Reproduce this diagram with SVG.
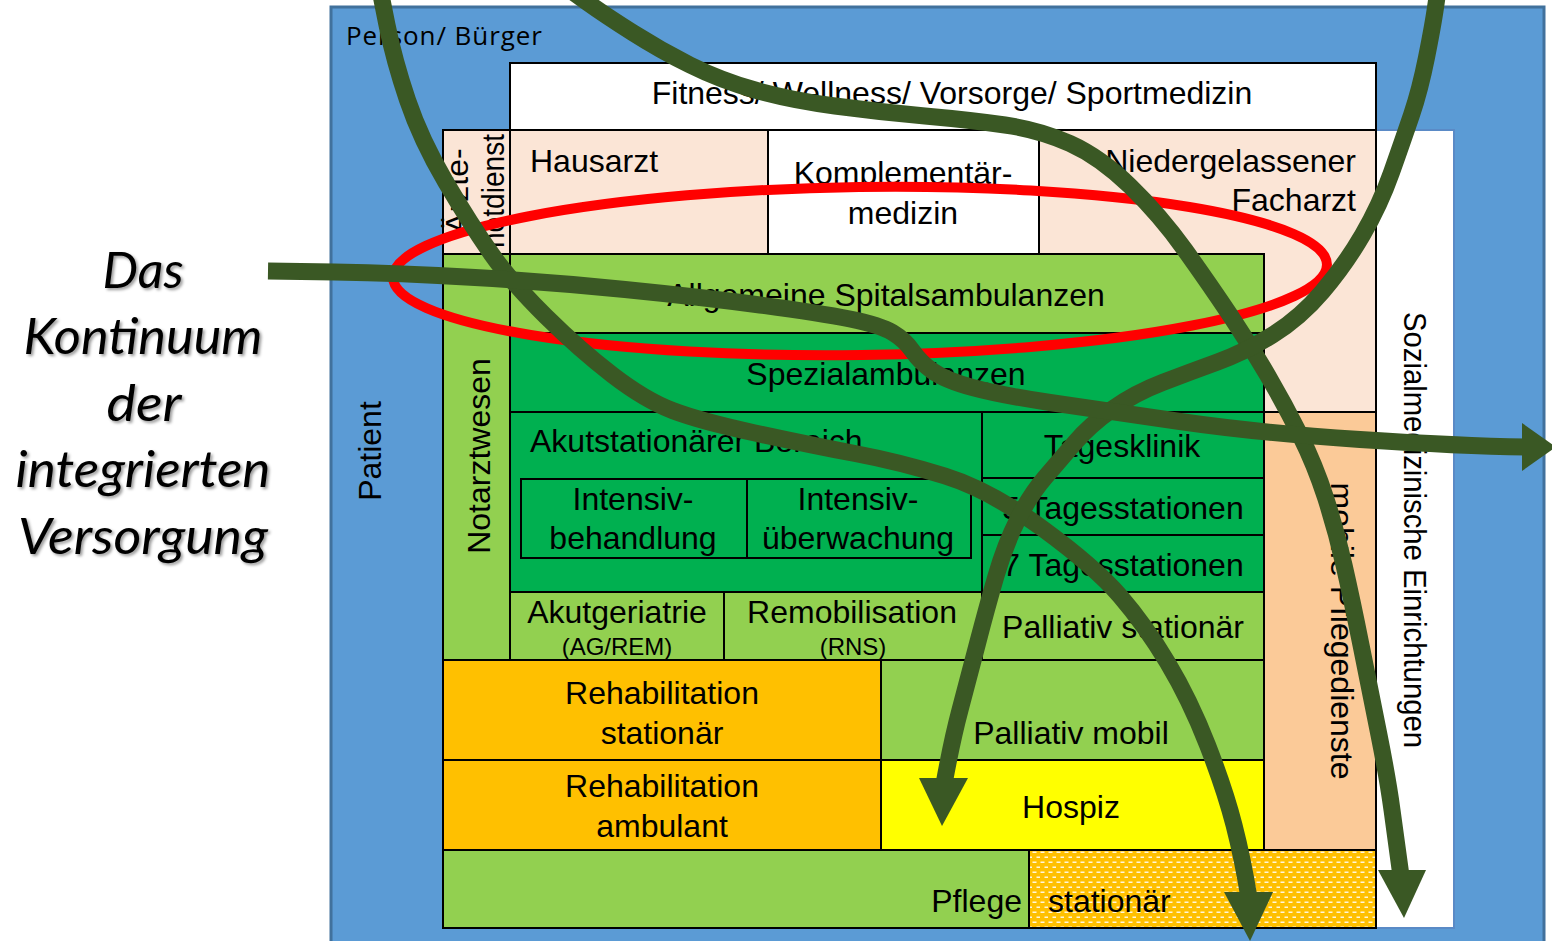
<svg xmlns="http://www.w3.org/2000/svg" width="1552" height="941" viewBox="0 0 1552 941">
<style>
.t{font-family:"Liberation Sans",Arial,sans-serif;font-size:32px;fill:#000}
.ts{font-size:24px}
.c{text-anchor:middle}
.e{text-anchor:end}
.b{stroke:#000;stroke-width:2}
.peach{fill:#fbe5d6}
.lg{fill:#92d050}
.dg{fill:#00b050}
.or{fill:#ffc000}
.arr{fill:none;stroke:#3a5824;stroke-width:17;stroke-linecap:butt;stroke-linejoin:round}
.head{fill:#3a5824}
.title{font-family:Lato,"Open Sans",sans-serif;font-style:italic;font-size:50px;fill:#000;text-anchor:middle}
</style>
<defs>
<pattern id="dots" width="8" height="10" patternUnits="userSpaceOnUse">
<rect width="8" height="10" fill="#ffc000"/>
<rect x="0.5" y="1.5" width="4" height="1.5" fill="#fff" opacity="0.85"/>
<rect x="4.5" y="6.5" width="3.5" height="1.5" fill="#fff" opacity="0.85"/>
</pattern>
<filter id="sh" x="-10%" y="-10%" width="120%" height="130%">
<feDropShadow dx="2" dy="2" stdDeviation="1.5" flood-color="#000" flood-opacity="0.4"/>
</filter>
</defs>
<rect width="1552" height="941" fill="#fff"/>

<g id="person">
<rect x="331" y="7" width="1213" height="945" fill="#5b9bd5" stroke="#41719c" stroke-width="3"/>
<text x="346" y="45" font-family="Open Sans,sans-serif" font-size="26" textLength="196">Person/ Bürger</text>
<text class="t" transform="translate(381,451) rotate(-90)" text-anchor="middle">Patient</text>
</g>

<g id="sozial">
<rect x="1376" y="130" width="78" height="798" fill="#fff" stroke="#5a8ac6" stroke-width="2"/>
<text class="t c" transform="translate(1404,530) rotate(90)" font-size="28" textLength="436" lengthAdjust="spacingAndGlyphs">Sozialmedizinische Einrichtungen</text>
</g>

<g id="fitness">
<rect x="510" y="63" width="866" height="67" fill="#fff" class="b"/>
<text class="t c" x="952" y="104">Fitness/ Wellness/ Vorsorge/ Sportmedizin</text>
</g>

<g id="facharzt">
<rect x="1039" y="130" width="337" height="282" class="b peach"/>
<text class="t e" x="1356" y="172">Niedergelassener</text>
<text class="t e" x="1356" y="211">Facharzt</text>
</g>

<g id="aerztenotdienst">
<rect x="443" y="130" width="67" height="124" class="b peach"/>
<text class="t c" font-size="27" transform="translate(468,191) rotate(-90)">Ärzte-</text>
<text class="t c" font-size="27" transform="translate(504,191) rotate(-90)" textLength="114" lengthAdjust="spacingAndGlyphs">notdienst</text>
</g>

<g id="hausarzt">
<rect x="510" y="130" width="258" height="124" class="b peach"/>
<text class="t" x="530" y="172">Hausarzt</text>
</g>

<g id="komplementaer">
<rect x="768" y="130" width="271" height="124" fill="#fff" class="b"/>
<text class="t c" x="903" y="184">Komplementär-</text>
<text class="t c" x="903" y="224">medizin</text>
</g>

<g id="notarzt">
<rect x="443" y="254" width="67" height="406" class="b lg"/>
<text class="t c" transform="translate(490,456) rotate(-90)">Notarztwesen</text>
</g>

<g id="allgemein">
<rect x="510" y="254" width="754" height="79" class="b lg"/>
<text class="t c" x="886" y="306">Allgemeine Spitalsambulanzen</text>
</g>

<g id="spezial">
<rect x="510" y="333" width="754" height="79" class="b dg"/>
<text class="t c" x="886" y="385">Spezialambulanzen</text>
</g>

<g id="akut">
<rect x="510" y="412" width="472" height="180" class="b dg"/>
<text class="t" x="530" y="452">Akutstationärer Bereich</text>
</g>

<g id="intensivbeh">
<rect x="521" y="479" width="226" height="79" class="b dg"/>
<text class="t c" x="633" y="510">Intensiv-</text>
<text class="t c" x="633" y="549">behandlung</text>
</g>

<g id="intensivueb">
<rect x="747" y="479" width="224" height="79" class="b dg"/>
<text class="t c" x="858" y="510">Intensiv-</text>
<text class="t c" x="858" y="549">überwachung</text>
</g>

<g id="tagesklinik">
<rect x="982" y="412" width="282" height="66" class="b dg"/>
<text class="t c" x="1122" y="457">Tagesklinik</text>
</g>

<g id="tages5">
<rect x="982" y="478" width="282" height="57" class="b dg"/>
<text class="t c" x="1123" y="519">5 Tagesstationen</text>
</g>

<g id="tages7">
<rect x="982" y="535" width="282" height="57" class="b dg"/>
<text class="t c" x="1123" y="576">7 Tagesstationen</text>
</g>

<g id="akutgeriatrie">
<rect x="510" y="592" width="214" height="68" class="b lg"/>
<text class="t c" x="617" y="623">Akutgeriatrie</text>
<text class="t ts c" x="617" y="655">(AG/REM)</text>
</g>

<g id="remobilisation">
<rect x="724" y="592" width="258" height="68" class="b lg"/>
<text class="t c" x="852" y="623">Remobilisation</text>
<text class="t ts c" x="853" y="655">(RNS)</text>
</g>

<g id="palliativstat">
<rect x="982" y="592" width="282" height="68" class="b lg"/>
<text class="t c" x="1123" y="638">Palliativ stationär</text>
</g>

<g id="rehastat">
<rect x="443" y="660" width="438" height="100" class="b or"/>
<text class="t c" x="662" y="704">Rehabilitation</text>
<text class="t c" x="662" y="744">stationär</text>
</g>

<g id="rehaamb">
<rect x="443" y="760" width="438" height="90" class="b or"/>
<text class="t c" x="662" y="797">Rehabilitation</text>
<text class="t c" x="662" y="837">ambulant</text>
</g>

<g id="palliativmobil">
<rect x="881" y="660" width="383" height="100" class="b lg"/>
<text class="t c" x="1071" y="744">Palliativ mobil</text>
</g>

<g id="hospiz">
<rect x="881" y="760" width="383" height="90" class="b" fill="#ffff00"/>
<text class="t c" x="1071" y="818">Hospiz</text>
</g>

<g id="mobilpflege">
<rect x="1264" y="412" width="112" height="438" class="b" fill="#fbca98"/>
<text class="t c" transform="translate(1331,631) rotate(90)">mobile Pflegedienste</text>
</g>

<g id="pflege">
<rect x="443" y="850" width="586" height="78" class="b lg"/>
<text class="t e" x="1022" y="912">Pflege</text>
</g>

<g id="pflegestat">
<rect x="1029" y="850" width="347" height="78" class="b" fill="url(#dots)"/>
<text class="t" x="1048" y="912">stationär</text>
</g>

<g id="title" filter="url(#sh)">
<text class="title" x="143" y="288" textLength="81" lengthAdjust="spacingAndGlyphs">Das</text>
<text class="title" x="143" y="354" textLength="239" lengthAdjust="spacingAndGlyphs">Kontinuum</text>
<text class="title" x="144" y="421" textLength="75" lengthAdjust="spacingAndGlyphs">der</text>
<text class="title" x="143" y="487" textLength="255" lengthAdjust="spacingAndGlyphs">integrierten</text>
<text class="title" x="143" y="554" textLength="250" lengthAdjust="spacingAndGlyphs">Versorgung</text>
</g>

<g id="focus">
<ellipse cx="860" cy="271" rx="467" ry="84" fill="none" stroke="#ff0000" stroke-width="10" transform="rotate(-0.8 860 271)"/>
</g>

<g id="connectors">
<path class="arr" d="M380,-10 L387,25 Q394,60 407.5,100 Q421,140 446,182.5 Q471,225 491.5,254 Q512,283 546,316.5 Q580,350 612.5,375 Q645,400 672.5,410.5 Q700,421 755,433 Q810,445 855,453.5 Q900,462 945,476 Q990,490 1042.5,528.5 Q1095,567 1120,596 Q1145,625 1167.5,662.5 Q1190,700 1207.5,745 Q1225,790 1234,825 Q1243,860 1249,898"/>
<polygon class="head" points="1224,892 1273,892 1250,941"/>
<path class="arr" d="M570,-10 L587.5,2.5 Q605,15 632.5,32.5 Q660,50 690,65 Q720,80 755,90 Q790,100 835,106 Q880,112 925,116 Q970,120 1005,125 Q1040,130 1070,143.5 Q1100,157 1130,186 Q1160,215 1185,250 Q1210,285 1230,315 Q1250,345 1267.5,375 Q1285,405 1300,435 Q1315,465 1325.5,497.5 Q1336,530 1344,565 Q1352,600 1361,645 Q1370,690 1379,735 Q1388,780 1392,810 Q1396,840 1401,876"/>
<polygon class="head" points="1378,870 1426,870 1404,918"/>
<path class="arr" d="M1438,-10 L1435.5,7.5 Q1433,25 1426.5,57.5 Q1420,90 1411.5,115 Q1403,140 1391.5,172.5 Q1380,205 1362.5,235 Q1345,265 1322.5,291.5 Q1300,318 1272.5,335 Q1245,352 1217.5,362 Q1190,372 1162.5,382.5 Q1135,393 1112.5,409 Q1090,425 1075,442.5 Q1060,460 1045,477.5 Q1030,495 1017.5,520 Q1005,545 996,576 Q987,607 977.5,643.5 Q968,680 960,710 Q952,740 944,784"/>
<polygon class="head" points="919,778 968,778 942,826"/>
<path class="arr" d="M268,271 L334,272 Q400,273 475,277.5 Q550,282 625,289.5 Q700,297 760,305 Q820,313 850,319 Q880,325 892.5,332.5 Q905,340 912.5,351 Q920,362 932.5,371 Q945,380 972.5,387.5 Q1000,395 1050,402.5 Q1100,410 1180,421.5 Q1260,433 1360,439.5 Q1460,446 1526,447"/>
<polygon class="head" points="1522,423 1522,471 1556,447"/>
</g>
</svg>
